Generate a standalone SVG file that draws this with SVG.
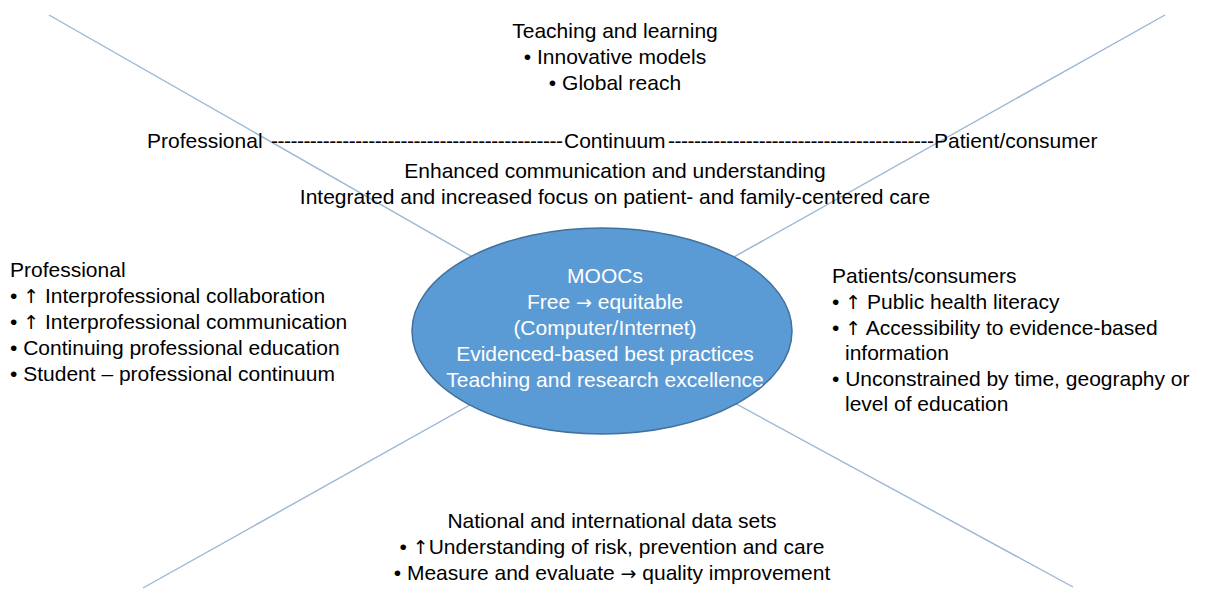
<svg xmlns="http://www.w3.org/2000/svg" width="1206" height="590" viewBox="0 0 1206 590">
<style>
text{font-family:"Liberation Sans",Arial,sans-serif;font-size:21px;fill:#000}
.c{text-anchor:middle}
.w{fill:#fff}
.a{font-family:"DejaVu Sans",sans-serif;font-size:19px}
.ln{stroke:#9cb6d6;stroke-width:1.4;fill:none}
</style>
<rect width="1206" height="590" fill="#fff"/>
<g id="connectors">
<line class="ln" x1="49" y1="15" x2="602" y2="331"/>
<line class="ln" x1="1165" y1="15" x2="602" y2="331"/>
<line class="ln" x1="143" y1="588" x2="602" y2="331"/>
<line class="ln" x1="1073" y1="587" x2="602" y2="331"/>
</g>
<g id="moocs">
<ellipse cx="602" cy="331" rx="190" ry="103" fill="#5b9bd5" stroke="#41719c" stroke-width="1.5"/>
<text class="c w" x="605" y="283">MOOCs</text>
<text class="c w" x="605" y="309">Free <tspan class="a w">→</tspan> equitable</text>
<text class="c w" x="605" y="335">(Computer/Internet)</text>
<text class="c w" x="605" y="361">Evidenced-based best practices</text>
<text class="c w" x="605" y="387">Teaching and research excellence</text>
</g>
<g id="teaching">
<text class="c" x="615" y="38">Teaching and learning</text>
<text class="c" x="615" y="64">• Innovative models</text>
<text class="c" x="615" y="90">• Global reach</text>
</g>
<g id="continuum">
<text x="147" y="148">Professional</text>
<text x="271" y="148" textLength="292" lengthAdjust="spacing">---------------------------------------------</text>
<text x="564" y="148">Continuum</text>
<text x="668" y="148" textLength="266" lengthAdjust="spacing">-----------------------------------------</text>
<text x="934" y="148">Patient/consumer</text>
</g>
<g id="communication">
<text class="c" x="615" y="178">Enhanced communication and understanding</text>
<text class="c" x="615" y="204">Integrated and increased focus on patient- and family-centered care</text>
</g>
<g id="professional">
<text x="10" y="277">Professional</text>
<text x="10" y="303">• <tspan class="a">↑</tspan> Interprofessional collaboration</text>
<text x="10" y="329">• <tspan class="a">↑</tspan> Interprofessional communication</text>
<text x="10" y="355">• Continuing professional education</text>
<text x="10" y="381">• Student – professional continuum</text>
</g>
<g id="patients">
<text x="832" y="283">Patients/consumers</text>
<text x="832" y="309">• <tspan class="a">↑</tspan> Public health literacy</text>
<text x="832" y="335">• <tspan class="a">↑</tspan> Accessibility to evidence-based</text>
<text x="845" y="360">information</text>
<text x="832" y="386">• Unconstrained by time, geography or</text>
<text x="845" y="411">level of education</text>
</g>
<g id="datasets">
<text class="c" x="612" y="528">National and international data sets</text>
<text class="c" x="612" y="554">• <tspan class="a">↑</tspan>Understanding of risk, prevention and care</text>
<text class="c" x="612" y="580">• Measure and evaluate <tspan class="a">→</tspan> quality improvement</text>
</g>
</svg>
